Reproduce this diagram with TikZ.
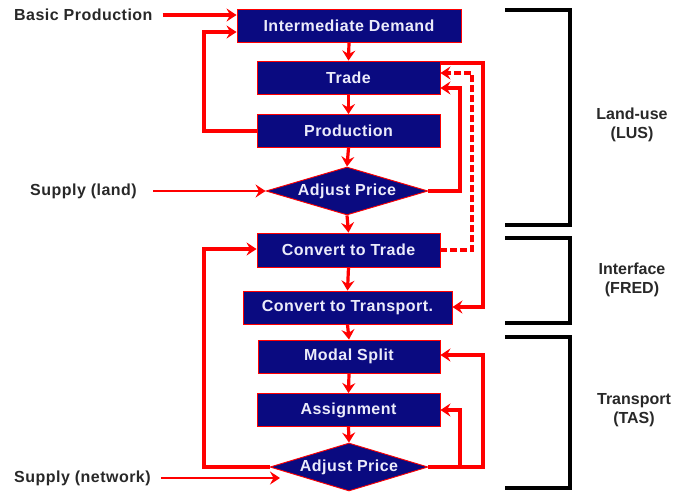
\documentclass[tikz,border=0pt]{standalone}
\usepackage{fontspec}
\setmainfont{Liberation Sans}
\newfontfamily\boxfont{Liberation Sans}[LetterSpace=3]
\usetikzlibrary{arrows.meta,shapes.geometric}
\definecolor{navy}{RGB}{10,10,128}
\definecolor{lblc}{RGB}{40,40,40}
\definecolor{txtc}{RGB}{235,235,250}
\begin{document}
\begin{tikzpicture}[x=1pt,y=-1pt,
  box/.style={draw=red, line width=0.9pt, fill=navy, text=txtc,
    font=\boxfont\bfseries\fontsize{16}{18}\selectfont, inner sep=0pt, minimum height=33pt},
  dia/.style={diamond, draw=red, line width=0.9pt, fill=navy, text=txtc,
    font=\boxfont\bfseries\fontsize{16}{18}\selectfont, inner sep=0pt, aspect=3.375,
    minimum width=162pt, minimum height=48pt},
  lbl/.style={text=lblc, font=\boxfont\bfseries\fontsize{16}{18}\selectfont, inner sep=0pt},
  grp/.style={text=lblc, font=\bfseries\fontsize{16}{19}\selectfont, align=center, inner sep=0pt},
  arr/.style={red, line width=3.2pt, line join=miter, -{Stealth[length=10pt,width=13pt,inset=3.5pt]}},
  thinarr/.style={arr, line width=2.2pt},
  brk/.style={black, line width=3.5pt, line join=miter}]
\useasboundingbox (0,0) rectangle (675,491);

% nodes
\node[box, minimum width=224pt] (id) at (349,25.5) {Intermediate Demand};
\node[box, minimum width=183pt] (tr) at (348.5,77.5) {Trade};
\node[box, minimum width=183pt] (pr) at (348.5,131) {Production};
\node[dia] (ap1) at (347,191) {Adjust Price};
\node[box, minimum width=183pt, minimum height=34pt] (ct) at (348.5,250) {Convert to Trade};
\node[box, minimum width=209pt] (cx) at (347.5,307.5) {Convert to Transport.};
\node[box, minimum width=182pt] (ms) at (349,356.5) {Modal Split};
\node[box, minimum width=183pt] (as) at (348.5,410) {Assignment};
\node[dia, minimum width=158pt] (ap2) at (349,467) {Adjust Price};

\node[lbl, anchor=west] (bp) at (14,15) {Basic Production};
\node[lbl, anchor=west] (sl) at (30,191) {Supply (land)};
\node[lbl, anchor=west] (sn) at (14,478) {Supply (network)};
\coordinate (snend) at (280,478);
\coordinate (br) at (460,467);

% vertical flow
\draw[arr] (id.south) -- (tr.north);
\draw[arr] (tr.south) -- (pr.north);
\draw[arr] (pr.south) -- (ap1.north);
\draw[arr] (ap1.south) -- (ct.north);
\draw[arr] (ct.south) -- (cx.north);
\draw[arr] (cx.south) -- (ms.north);
\draw[arr] (ms.south) -- (as.north);
\draw[arr] (as.south) -- (ap2.north);

% inputs
\draw[arr] ([xshift=10pt]bp.east) -- (id.west |- bp.east);
\draw[thinarr] ([xshift=16pt]sl.east) -- (ap1.west);
\draw[thinarr] ([xshift=10pt]sn.east) -- (snend);

% left loops
\draw[arr] (pr.west) -- (204,131) -- (204,32) -- (id.west |- 0,32);
\draw[arr] (ap2.west) -- (204,467) -- (204,249) -- (ct.west |- 0,249);

% right loops
\draw[arr] (ap1.east) -- (460,191) -- (460,88) -- (tr.east |- 0,88);
\draw[arr, dash pattern=on 7pt off 3pt] (ct.east) -- (472,250) -- (472,73) -- (tr.east |- 0,73);
\draw[arr] (tr.east |- 0,63) -- (483,63) -- (483,307) -- (cx.east |- 0,307);
\draw[arr] (ap2.east) -- (483,467) -- (483,355) -- (ms.east |- 0,355);
\draw[arr, line width=4.5pt] ([yshift=-1pt]br) -- (460,410) -- (as.east |- 0,410);

% brackets
\draw[brk] (505,10) -| (570,225) -- (505,225);
\draw[brk] (505,238) -| (570,323) -- (505,323);
\draw[brk] (505,337) -| (570,488) -- (505,488);

\node[grp] (lus) at (632,125) {Land-use\\(LUS)};
\node[grp] (fred) at (632,280) {Interface\\(FRED)};
\node[grp] (tas) at (634,410) {Transport\\(TAS)};
\end{tikzpicture}
\end{document}
